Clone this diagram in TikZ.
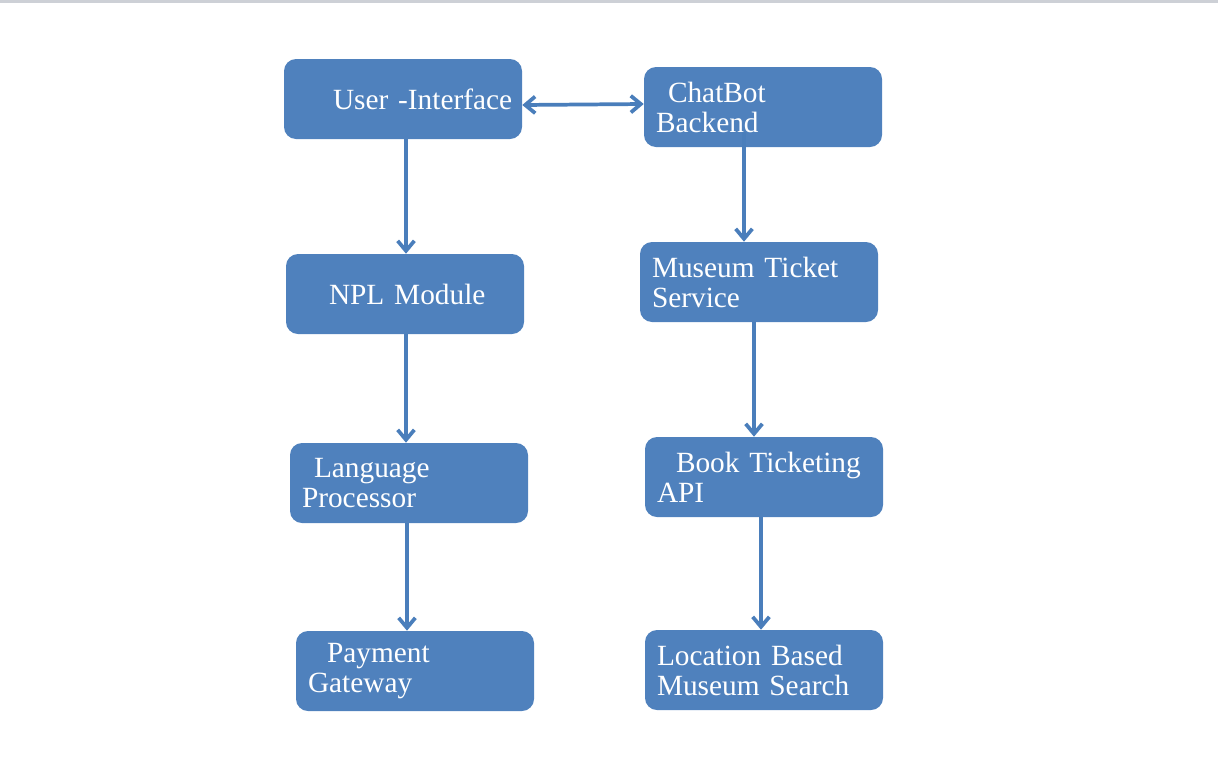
\documentclass[tikz,border=0pt]{standalone}
\usepackage{fontspec}
\setmainfont{Liberation Serif}
\usepackage{xcolor}
\usetikzlibrary{arrows.meta}
\definecolor{BoxBlue}{HTML}{4F81BD}
\definecolor{LineBlue}{HTML}{4A7EBB}
\definecolor{TopGray}{HTML}{CDD0D6}
\tikzset{
  block/.style={rectangle, rounded corners=9pt, fill=BoxBlue, text=white,
    text width=160.5pt, inner xsep=9pt, inner ysep=0pt,
    minimum height=60pt, align=left,
    font=\fontsize{22}{22.5}\selectfont},
  flow/.style={draw=LineBlue, line width=2.8pt,
    -{Straight Barb[length=7.5pt,width=12.5pt]}},
  twoway/.style={flow, {Straight Barb[length=7.5pt,width=12.5pt]}-{Straight Barb[length=7.5pt,width=12.5pt]}}
}

\begin{document}
\begin{tikzpicture}[x=0.75pt,y=-0.75pt]
                \useasboundingbox (0,0) rectangle (1218,768);
                \fill[TopGray] (0,0) rectangle (1218,3);

                \node[block] (ui) at (403,99) {\hspace*{27.75pt}\rlap{User -Interface}};
                \node[block] (bot) at (763,107) {\hspace*{9pt}ChatBot\\Backend};
                \node[block] (npl) at (405,294) {\hspace*{23.25pt}NPL Module};
                \node[block] (mts) at (759,282) {Museum Ticket\\Service};
                \node[block] (lang) at (409,483) {\hspace*{9pt}Language\\Processor};
                \node[block] (bta) at (764,477) {\hspace*{14.25pt}Book Ticketing\\API};
                \node[block] (pay) at (415,671) {\hspace*{14.25pt}Payment\\Gateway};
                \node[block] (loc) at (764,670) {Location Based\\Museum Search};

                \draw[twoway] (ui.east |- 0,105) -- (bot.west |- 0,104);

                \draw[flow] (406,0 |- ui.south) -- (406,0 |- npl.north);
                \draw[flow] (406,0 |- npl.south) -- (406,0 |- lang.north);
                \draw[flow] (407,0 |- lang.south) -- (407,0 |- pay.north);

                \draw[flow] (744,132) -- (744,0 |- mts.north);
                \draw[flow] (754,0 |- mts.south) -- (754,0 |- bta.north);
                \draw[flow] (761,0 |- bta.south) -- (761,0 |- loc.north);
        \end{tikzpicture}
\end{document}
